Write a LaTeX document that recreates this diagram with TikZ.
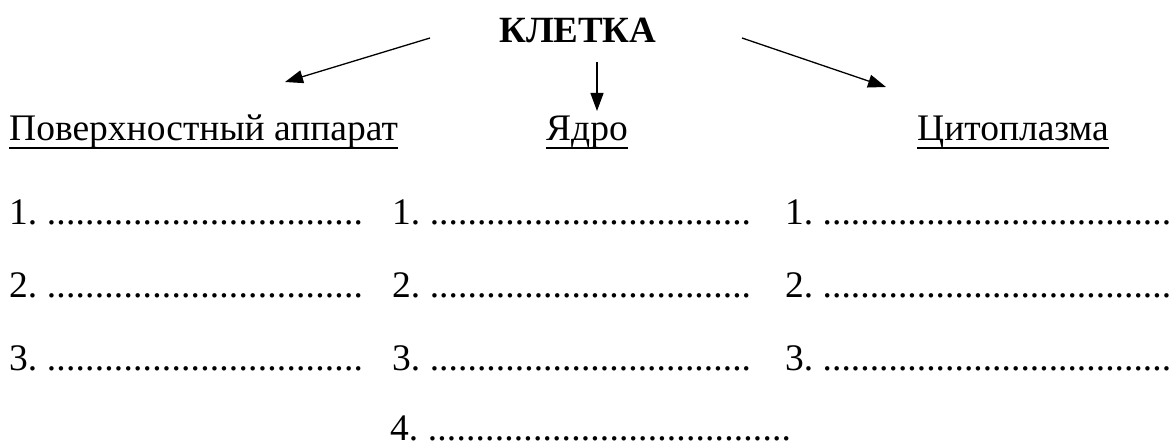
\documentclass[tikz,border=0pt]{standalone}
\usepackage{fontspec}
\setmainfont{LiberationSerif}[
  Extension=.ttf,
  UprightFont=*-Regular,
  BoldFont=*-Bold,
  ItalicFont=*-Italic,
  BoldItalicFont=*-BoldItalic]
\usetikzlibrary{arrows.meta}
% numbered blank: "n. ......" filling a fixed width
\newcommand\blankrow[2]{\hbox to #1{#2.\ \xleaders\hbox{.}\hfill}}
\begin{document}
\begin{tikzpicture}[x=1pt,y=-1pt,
  every node/.style={inner sep=0pt, anchor=base west, font=\fontsize{37.5}{44}\selectfont},
  title/.style={font=\fontsize{37}{44}\selectfont\bfseries},
  arr/.style={line width=1.3pt, -{Triangle[length=18pt,width=13pt]}},
  uline/.style={line width=1.9pt}]
\useasboundingbox (0,0) rectangle (1172,446);

% root
\node[title] (cell) at (499,43) {КЛЕТКА};

% branches
\node (surf) at (9,141) {Поверхностный аппарат};
\node (nuc)  at (546,141) {Ядро};
\node (cyto) at (917,141) {Цитоплазма};

\foreach \n in {surf,nuc,cyto}
  \draw[uline] ([yshift=-7pt]\n.base west) -- ([yshift=-7pt]\n.base east);

% arrows from the root
\coordinate (la) at (430,38);  \coordinate (lb) at (285,82);
\coordinate (ma) at (597,62);  \coordinate (mb) at (597,111);
\coordinate (ra) at (742,38);  \coordinate (rb) at (886,87);
\draw[arr] (la) -- (lb);
\draw[arr] (ma) -- (mb);
\draw[arr] (ra) -- (rb);

% blanks under each branch
\foreach \i/\y in {1/225,2/297.5,3/370}{
  \node (s\i) at (9,\y)   {\blankrow{354pt}{\i}};
  \node (n\i) at (392,\y) {\blankrow{359pt}{\i}};
  \node (c\i) at (785,\y) {\blankrow{386pt}{\i}};
}
\node (n4) at (390,440) {\blankrow{401pt}{4}};
\end{tikzpicture}
\end{document}
